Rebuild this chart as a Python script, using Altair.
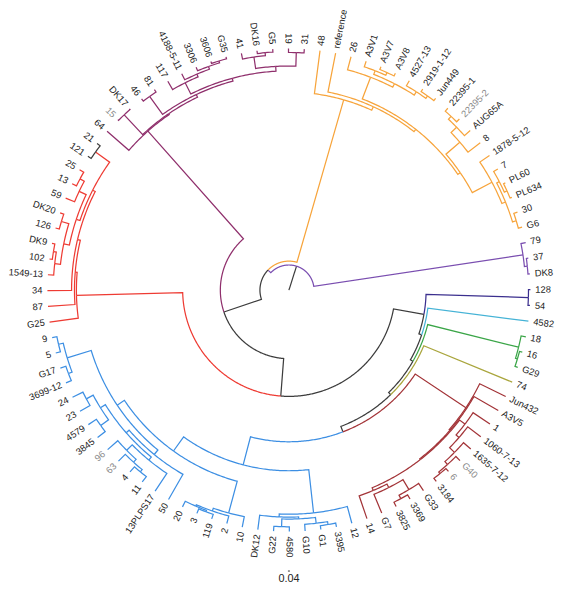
import math
import altair as alt
import pandas as pd

# ---------------- data ----------------
LEAF_DEPTH = 250          # all tips sit at the same height (ultrametric tree)
START_ANGLE = 3.85        # angle of the first leaf (degrees, counter-clockwise)

# internal nodes: name -> (node height from the root, children in counter-clockwise order)
nodes = {
    "root": (26, ["Pu", "N1"]),
    "Pu": (245, ["Pu1", "79"]),
    "Pu1": (248, ["DK8", "37"]),
    "N1": (30, ["O", "N3"]),
    "O": (205, ["O1", "48"]),
    "O1": (209, ["O2", "reference"]),
    "O2": (212, ["Ob", "Oa"]),
    "Ob": (215, ["Od", "Oc"]),
    "Od": (238, ["Od1", "1878-5-12"]),
    "Od1": (242, ["OdG", "Od7"]),
    "OdG": (246, ["G6", "30"]),
    "Od7": (245, ["OdP", "7"]),
    "OdP": (248, ["PL634", "PL60"]),
    "Oc": (234, ["8", "Oc1"]),
    "Oc1": (242, ["AUG65A", "Oc2"]),
    "Oc2": (246, ["22395-2", "22395-1"]),
    "Oa": (236, ["Oa1", "26"]),
    "Oa1": (240, ["Oa4", "Oa3"]),
    "Oa4": (244, ["Oa5", "4527-13"]),
    "Oa5": (247, ["Jun449", "2919-1-12"]),
    "Oa3": (244, ["Oa6", "A3V1"]),
    "Oa6": (247, ["A3V8", "A3V7"]),
    "N3": (71, ["M", "N4"]),
    "M": (220, ["M1", "64"]),
    "M1": (221, ["M2", "Mk"]),
    "Mk": (249, ["DK17", "15"]),
    "M2": (224, ["M3", "Mf"]),
    "Mf": (247, ["81", "46"]),
    "M3": (227, ["Mt", "M4"]),
    "Mt": (232, ["Mt1", "Mt2"]),
    "Mt1": (246, ["31", "19"]),
    "Mt2": (244, ["Mt3", "41"]),
    "Mt3": (247, ["G5", "DK16"]),
    "M4": (240, ["M5", "117"]),
    "M5": (243, ["M6", "4188-5-11"]),
    "M6": (246, ["M7", "3306"]),
    "M7": (248, ["G35", "3606"]),
    "N4": (110, ["R", "N5"]),
    "R": (220, ["X1", "G25"]),
    "X1": (222, ["X2", "87"]),
    "X2": (225, ["X3", "34"]),
    "X3": (228, ["Rk", "Y"]),
    "Rk": (246, ["21", "121"]),
    "Y": (232, ["T", "S"]),
    "T": (240, ["T1", "59"]),
    "T1": (245, ["25", "13"]),
    "S": (238, ["S1", "S2"]),
    "S1": (246, ["DK20", "126"]),
    "S2": (244, ["S3", "1549-13"]),
    "S3": (247, ["DK9", "102"]),
    "N5": (142, ["N6", "Nv"]),
    "Nv": (248, ["54", "128"]),
    "N6": (145, ["N7", "4582"]),
    "N7": (148, ["N8", "Gr"]),
    "Gr": (245, ["Gr1", "18"]),
    "Gr1": (247, ["G29", "16"]),
    "N8": (151, ["N9", "74"]),
    "N9": (157, ["Bl", "DR"]),
    "Bl": (187, ["BL", "Br"]),
    "BL": (205, ["Xb", "G20"]),
    "Xb": (214, ["Q", "Yb"]),
    "Q": (240, ["Q1", "Q2"]),
    "Q1": (245, ["9", "5"]),
    "Q2": (244, ["G17", "3699-12"]),
    "Yb": (220, ["Wp", "50"]),
    "Wp": (224, ["W", "V"]),
    "W": (230, ["W1", "W2"]),
    "W1": (238, ["24", "23"]),
    "W2": (240, ["4579", "3845"]),
    "V": (228, ["V1", "13PLPS17"]),
    "V1": (236, ["96", "V2"]),
    "V2": (240, ["63", "V3"]),
    "V3": (243, ["4", "11"]),
    "G20": (239, ["G21", "10"]),
    "G21": (242, ["G22n", "2"]),
    "G22n": (243.5, ["20", "G23"]),
    "G23": (245, ["3", "119"]),
    "Br": (232, ["Bx", "12"]),
    "Bx": (235, ["DK12", "By"]),
    "By": (237, ["Bz1", "Bz2"]),
    "Bz1": (245, ["G22", "4580"]),
    "Bz2": (243, ["G10", "Bz3"]),
    "Bz3": (246, ["G1", "3395"]),
    "DR": (220, ["D1", "Jun432"]),
    "D1": (221, ["D2", "A3V5"]),
    "D2": (222, ["Dlow", "Dup"]),
    "Dlow": (225, ["14", "Dl1"]),
    "Dl1": (229, ["G7", "Dl2"]),
    "Dl2": (241, ["Dl3", "G33"]),
    "Dl3": (245, ["3825", "3369"]),
    "Dup": (229, ["Du1", "1"]),
    "Du1": (233, ["Du2", "1060-7-13"]),
    "Du2": (240, ["Du3", "1635-7-12"]),
    "Du3": (244, ["Du4", "G40"]),
    "Du4": (246, ["3184", "6"]),
}

# clade colours (a branch inherits its parent's colour unless listed)
BLACK = "#3c3c3c"
clade_colors = {
    "root": BLACK,
    "Pu": "#7a4eb0", "N1": "#7a4eb0",
    "O": "#f7a43b",
    "N3": BLACK,
    "M": "#8f2f6c",
    "R": "#ee3b33", "21": BLACK, "121": BLACK,
    "Nv": "#3b2f8e", "4582": "#45b3d6", "Gr": "#3aa547", "74": "#aaa63e",
    "Bl": "#3d8fe3", "DR": "#a33438",
}
grey_labels = ["15", "22395-2", "63", "96", "G40", "6"]
scale_bar_label = "0.04"

# ---------------- layout ----------------
RADIAL = 0.98   # pixels per height unit
parent = {}
for n, (_, ch) in nodes.items():
    for c in ch:
        parent[c] = n

leaf_order = []
def dfs(n):
    if n in nodes:
        for c in nodes[n][1]:
            dfs(c)
    else:
        leaf_order.append(n)
dfs("root")

step = 360.0 / len(leaf_order)
angle = {}
for k, lf in enumerate(leaf_order):
    angle[lf] = START_ANGLE + step * k

def node_angle(n):
    if n in angle:
        return angle[n]
    ch = nodes[n][1]
    a = (node_angle(ch[0]) + node_angle(ch[-1])) / 2.0
    angle[n] = a
    return a
node_angle("root")

def depth(n):
    return RADIAL * (nodes[n][0] if n in nodes else LEAF_DEPTH)

color = {}
def assign(n, col):
    col = clade_colors.get(n, col)
    color[n] = col
    if n in nodes:
        for c in nodes[n][1]:
            assign(c, col)
assign("root", BLACK)

def pt(r, a):
    t = math.radians(a)
    return r * math.cos(t), r * math.sin(t)

rows = []
seg = 0
for i, r in enumerate([0, depth("root")]):
    x, y = pt(r, angle["root"])
    rows.append(dict(seg=seg, i=i, x=x, y=y, color=color["root"]))
seg += 1
for n in list(parent.keys()):
    p = parent[n]
    rp, ap, an = depth(p), angle[p], angle[n]
    nsteps = max(2, int(abs(an - ap) / 0.5) + 1)
    pts = [pt(rp, ap + (an - ap) * j / (nsteps - 1)) for j in range(nsteps)]
    pts.append(pt(depth(n), an))
    for i, (x, y) in enumerate(pts):
        rows.append(dict(seg=seg, i=i, x=x, y=y, color=color[n]))
    seg += 1
lines = pd.DataFrame(rows)

lab = []
for lf in leaf_order:
    a = angle[lf]
    x, y = pt(depth(lf) + 5, a)
    right = math.cos(math.radians(a)) >= 0
    rot = (-a) % 360 if right else (180 - a) % 360
    lab.append(dict(name=lf, x=x, y=y, rot=rot, side="R" if right else "L",
                    lc="#8a8a8a" if lf in grey_labels else "#222222"))
labels = pd.DataFrame(lab)

bar_y = -(depth("4580") + 40)
bar = pd.DataFrame([dict(x=-1, x2=1, y=bar_y)])
bar_text = pd.DataFrame([dict(x=0, y=bar_y - 8, t=scale_bar_label)])

# ---------------- chart ----------------
X = alt.X("x:Q", scale=alt.Scale(domain=[-285, 266], nice=False, zero=False), axis=None)
Y = alt.Y("y:Q", scale=alt.Scale(domain=[-298, 282], nice=False, zero=False), axis=None)

branches = alt.Chart(lines).mark_line(strokeWidth=1.25, strokeJoin="miter").encode(
    x=X, y=Y, detail="seg:N", order="i:Q", color=alt.Color("color:N", scale=None)
)

def label_layer(side, align):
    return alt.Chart(labels).transform_filter(alt.datum.side == side).mark_text(
        font="Liberation Sans", fontSize=9.5, align=align, baseline="middle"
    ).encode(
        x=X, y=Y, text="name:N", angle=alt.Angle("rot:Q", scale=None),
        color=alt.Color("lc:N", scale=None)
    )

bar_rule = alt.Chart(bar).mark_rule(color="#333333", strokeWidth=1).encode(x=X, x2="x2:Q", y=Y)
bar_lab = alt.Chart(bar_text).mark_text(font="Liberation Sans", fontSize=11, color="#222222",
                                        baseline="middle", align="center").encode(x=X, y=Y, text="t:N")

chart = alt.layer(branches, label_layer("R", "left"), label_layer("L", "right"), bar_rule, bar_lab).properties(
    width=551, height=580,
    padding={"left": 0, "top": 0, "right": 8, "bottom": 0},
    autosize=alt.AutoSizeParams(type="none")
).configure_view(stroke=None)

chart.save("out.html", embed_options={"renderer": "svg", "actions": False})
